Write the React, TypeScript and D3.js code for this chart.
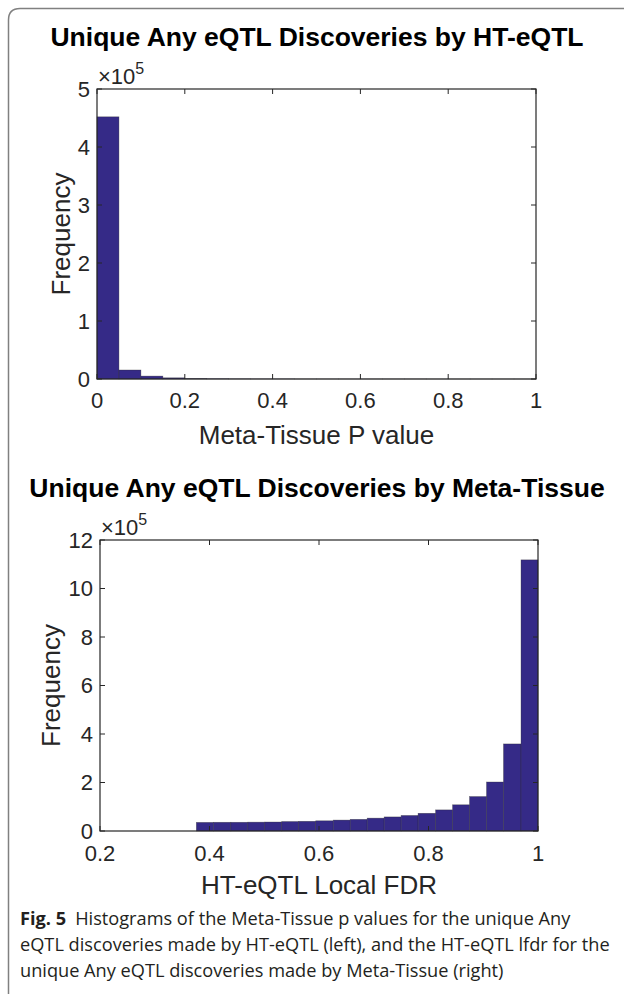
import React from "react";
import * as d3 from "d3";

// ---------- DATA ----------
const topTitle = "Unique Any eQTL Discoveries by HT-eQTL";
const topXLabel = "Meta-Tissue P value";
const topBinEdges = [0, 0.05, 0.1, 0.15, 0.2, 0.25, 0.3, 0.35, 0.4, 0.45, 0.5, 0.55, 0.6, 0.65, 0.7, 0.75, 0.8, 0.85, 0.9, 0.95, 1.0];
// counts in units of 1e5
const topCounts = [4.52, 0.155, 0.05, 0.02, 0.008, 0.005, 0.003, 0.002, 0.002, 0.001, 0.001, 0.001, 0.001, 0.001, 0.001, 0.0005, 0.0005, 0.0005, 0.0005, 0.0005];
const topXTicks = [0, 0.2, 0.4, 0.6, 0.8, 1];
const topXTickLabels = ["0", "0.2", "0.4", "0.6", "0.8", "1"];
const topYTicks = [0, 1, 2, 3, 4, 5];

const botTitle = "Unique Any eQTL Discoveries by Meta-Tissue";
const botXLabel = "HT-eQTL Local FDR";
const botBinEdges = [0.376, 0.407, 0.439, 0.470, 0.501, 0.532, 0.563, 0.594, 0.626, 0.657, 0.688, 0.719, 0.750, 0.781, 0.813, 0.844, 0.875, 0.906, 0.937, 0.969, 1.0];
const botCounts = [0.355, 0.36, 0.36, 0.365, 0.37, 0.39, 0.40, 0.42, 0.45, 0.48, 0.53, 0.58, 0.64, 0.73, 0.87, 1.08, 1.42, 2.02, 3.59, 11.18];
const botXTicks = [0.2, 0.4, 0.6, 0.8, 1];
const botXTickLabels = ["0.2", "0.4", "0.6", "0.8", "1"];
const botYTicks = [0, 2, 4, 6, 8, 10, 12];

const captionBold = "Fig. 5";
const captionLines = [
  "Histograms of the Meta-Tissue p values for the unique Any",
  "eQTL discoveries made by HT-eQTL (left), and the HT-eQTL lfdr for the",
  "unique Any eQTL discoveries made by Meta-Tissue (right)",
];

// ---------- STYLE ----------
const AX = "#262626";
const BAR = "#352a87";
const FONT = "'Liberation Sans', Arial, Helvetica, sans-serif";

type HistProps = {
  title: string;
  titleY: number;
  xLabel: string;
  xLabelY: number;
  edges: number[];
  counts: number[];
  xDomain: [number, number];
  yDomain: [number, number];
  xTicks: number[];
  xTickLabels: string[];
  yTicks: number[];
  box: { x0: number; x1: number; y0: number; y1: number };
  yLabelX: number;
  yTickRight: number;
  xTickBaseline: number;
};

function Hist(p: HistProps) {
  const x = d3.scaleLinear().domain(p.xDomain).range([p.box.x0, p.box.x1]);
  const y = d3.scaleLinear().domain(p.yDomain).range([p.box.y1, p.box.y0]);
  const tl = 5;
  const cx = (p.box.x0 + p.box.x1) / 2;
  const cy = (p.box.y0 + p.box.y1) / 2;
  return (
    <g>
      <text x={317} y={p.titleY} textAnchor="middle" fontFamily={FONT} fontWeight="bold" fontSize={26.5} fill="#000">
        {p.title}
      </text>
      {p.counts.map((c, i) => (
        <rect
          key={i}
          x={x(p.edges[i])}
          width={x(p.edges[i + 1]) - x(p.edges[i])}
          y={y(c)}
          height={y(0) - y(c)}
          fill={BAR}
          stroke="#2a2a2a"
          strokeOpacity={0.55}
          strokeWidth={0.6}
        />
      ))}
      <rect x={p.box.x0} y={p.box.y0} width={p.box.x1 - p.box.x0} height={p.box.y1 - p.box.y0} fill="none" stroke={AX} strokeWidth={1.2} />
      {p.xTicks.map((t, i) => (
        <g key={"xt" + i}>
          <line x1={x(t)} x2={x(t)} y1={p.box.y1} y2={p.box.y1 - tl} stroke={AX} strokeWidth={1} />
          <line x1={x(t)} x2={x(t)} y1={p.box.y0} y2={p.box.y0 + tl} stroke={AX} strokeWidth={1} />
          <text x={x(t)} y={p.xTickBaseline} textAnchor="middle" fontFamily={FONT} fontSize={22} fill={AX}>
            {p.xTickLabels[i]}
          </text>
        </g>
      ))}
      {p.yTicks.map((t, i) => (
        <g key={"yt" + i}>
          <line x1={p.box.x0} x2={p.box.x0 + tl} y1={y(t)} y2={y(t)} stroke={AX} strokeWidth={1} />
          <line x1={p.box.x1} x2={p.box.x1 - tl} y1={y(t)} y2={y(t)} stroke={AX} strokeWidth={1} />
          <text x={p.yTickRight} y={y(t)} dy="0.36em" textAnchor="end" fontFamily={FONT} fontSize={22} fill={AX}>
            {String(t)}
          </text>
        </g>
      ))}
      <text x={p.box.x0 + 1} y={p.box.y0 - 5} fontFamily={FONT} fontSize={22} fill={AX}>
        {"\u00d710"}
        <tspan fontSize={16} dy={-10}>5</tspan>
      </text>
      <text x={cx} y={p.xLabelY} textAnchor="middle" fontFamily={FONT} fontSize={26} fill={AX}>
        {p.xLabel}
      </text>
      <text transform={`translate(${p.yLabelX},${cy}) rotate(-90)`} textAnchor="middle" fontFamily={FONT} fontSize={26} fill={AX}>
        Frequency
      </text>
    </g>
  );
}

export default function App() {
  return (
    <svg width={624} height={994} style={{ position: "absolute", left: 0, top: 0, background: "#fff" }}>
      <rect x={0} y={0} width={624} height={994} fill="#fff" />
      <path d="M 8.5 994 V 20 Q 8.5 8.5 20 8.5 H 624" fill="none" stroke="#808080" strokeWidth={1.5} />
      <Hist
        title={topTitle}
        titleY={46}
        xLabel={topXLabel}
        xLabelY={444}
        edges={topBinEdges}
        counts={topCounts}
        xDomain={[0, 1]}
        yDomain={[0, 5]}
        xTicks={topXTicks}
        xTickLabels={topXTickLabels}
        yTicks={topYTicks}
        box={{ x0: 97, x1: 536, y0: 89, y1: 379 }}
        yLabelX={70}
        yTickRight={90}
        xTickBaseline={408}
      />
      <Hist
        title={botTitle}
        titleY={497}
        xLabel={botXLabel}
        xLabelY={894}
        edges={botBinEdges}
        counts={botCounts}
        xDomain={[0.2, 1]}
        yDomain={[0, 12]}
        xTicks={botXTicks}
        xTickLabels={botXTickLabels}
        yTicks={botYTicks}
        box={{ x0: 100, x1: 538, y0: 540, y1: 831 }}
        yLabelX={60}
        yTickRight={93}
        xTickBaseline={861}
      />
      <g fontFamily="'Open Sans', 'Noto Sans', sans-serif" fontSize={18.2} fill="#231f20">
        <text x={20} y={925}>
          <tspan fontWeight="bold">{captionBold}</tspan>
          <tspan dx={9}>{captionLines[0]}</tspan>
        </text>
        <text x={20} y={951}>{captionLines[1]}</text>
        <text x={20} y={977}>{captionLines[2]}</text>
      </g>
    </svg>
  );
}
